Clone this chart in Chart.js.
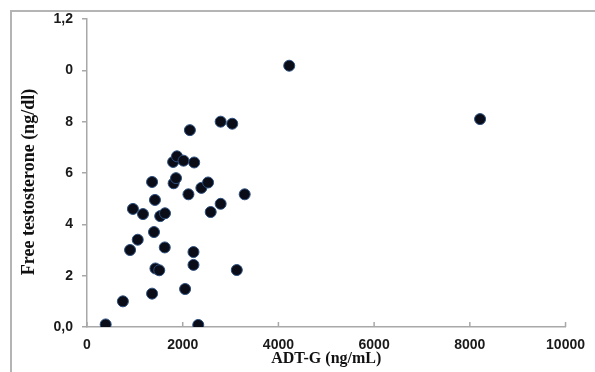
<!DOCTYPE html>
<html>
<head>
<meta charset="utf-8">
<script src="https://cdn.jsdelivr.net/npm/chart.js@4"></script>
<style>
  html, body { margin: 0; padding: 0; background: #fff; }
  #wrap { position: relative; width: 595px; height: 372px; overflow: hidden; }
  #frame { position: absolute; left: 10px; top: 10px; width: 700px; height: 500px;
           border-left: 2px solid #b4b4b4; border-top: 2px solid #b4b4b4; }
  canvas { position: absolute; left: 0; top: 0; }
</style>
</head>
<body>
<div id="wrap">
  <div id="frame"></div>
  <canvas id="chart" width="595" height="372"></canvas>
</div>
<script>
// ===== data =====
const adtG = [390, 750, 900, 960, 1060, 1170, 1360, 1360, 1400, 1420, 1430, 1510,
              1530, 1630, 1625, 1800, 1810, 1860, 1880, 2017, 2050, 2120, 2150, 2225,
              2225, 2240, 2325, 2390, 2530, 2585, 2793, 2793, 3035, 3130, 3295, 4226, 8214];
const freeT = [0.01, 0.10, 0.30, 0.46, 0.34, 0.44, 0.13, 0.565, 0.37, 0.495, 0.228, 0.221,
               0.432, 0.443, 0.31, 0.643, 0.56, 0.58, 0.665, 0.648, 0.148, 0.517, 0.767, 0.292,
               0.242, 0.641, 0.008, 0.542, 0.563, 0.448, 0.48, 0.80, 0.792, 0.222, 0.517, 1.018, 0.81];
// tick labels exactly as printed in the figure
const xTickLabels = ['0', '2000', '4000', '6000', '8000', '10000'];
const yTickLabels = ['0,0', '2', '4', '6', '8', '0', '1,2'];

const axisGray = '#a8a8a8';

// x ticks in the figure point up into the plot
const innerTicks = {
  id: 'innerTicks',
  afterDraw(chart) {
    const xs = chart.scales.x;
    const c = chart.ctx;
    c.save();
    c.strokeStyle = axisGray;
    c.lineWidth = 1.5;
    xs.ticks.forEach(t => {
      const px = xs.getPixelForValue(t.value);
      c.beginPath();
      c.moveTo(px, xs.top);
      c.lineTo(px, xs.top - 5);
      c.stroke();
    });
    c.restore();
  }
};

const ctx = document.getElementById('chart').getContext('2d');
new Chart(ctx, {
  type: 'scatter',
  data: {
    datasets: [{
      data: adtG.map((x, i) => ({ x: x, y: freeT[i] })),
      backgroundColor: '#0a0c18',
      borderColor: '#2b4d7c',
      borderWidth: 1,
      pointRadius: 5.5,
      pointHoverRadius: 5.5
    }]
  },
  options: {
    responsive: false,
    animation: false,
    layout: { padding: { top: 19, right: 26, left: 0, bottom: 0 } },
    plugins: { legend: { display: false }, tooltip: { enabled: false } },
    scales: {
      x: {
        type: 'linear',
        min: 0, max: 10000,
        afterFit: s => { s.height = 45; },
        afterBuildTicks: s => { s.ticks = xTickLabels.map((l, i) => ({ value: i * 2000 })); },
        grid: { display: true, drawOnChartArea: false, drawTicks: false },
        border: { color: axisGray, width: 1.5 },
        ticks: {
          padding: 10,
          color: '#1a1a1a',
          font: { family: 'Liberation Sans', weight: 'bold', size: 14 },
          callback: (v) => xTickLabels[Math.round(v / 2000)]
        },
        title: {
          display: true,
          text: 'ADT-G (ng/mL)',
          color: '#111',
          font: { family: 'Liberation Serif', weight: 'bold', size: 16 },
          padding: { top: 0, bottom: 4 }
        }
      },
      y: {
        type: 'linear',
        min: 0, max: 1.2,
        afterFit: s => { s.width = 87; },
        afterBuildTicks: s => { s.ticks = yTickLabels.map((l, i) => ({ value: i * 0.2 })); },
        grid: { display: true, drawOnChartArea: false, drawTicks: true, tickLength: 5, color: axisGray, lineWidth: 1.5 },
        border: { color: axisGray, width: 1.5 },
        ticks: {
          padding: 9,
          color: '#1a1a1a',
          font: { family: 'Liberation Sans', weight: 'bold', size: 14 },
          callback: (v) => yTickLabels[Math.round(v / 0.2)]
        },
        title: {
          display: true,
          // trailing spaces nudge the rotated title down, as in the figure
          text: 'Free testosterone (ng/dl)    ',
          color: '#111',
          font: { family: 'Liberation Serif', weight: 'bold', size: 18 },
          padding: { top: 19, bottom: 0 }
        }
      }
    }
  },
  plugins: [innerTicks]
});
</script>
</body>
</html>
